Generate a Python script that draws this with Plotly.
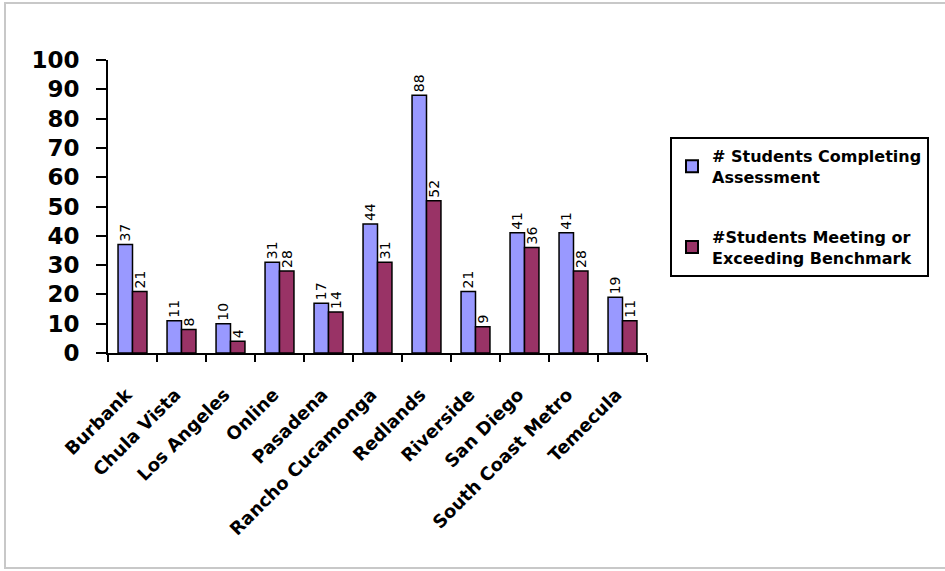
import plotly.graph_objects as go

categories = ["Burbank", "Chula Vista", "Los Angeles", "Online", "Pasadena",
              "Rancho Cucamonga", "Redlands", "Riverside", "San Diego",
              "South Coast Metro", "Temecula"]
completing = [37, 11, 10, 31, 17, 44, 88, 21, 41, 41, 19]
meeting = [21, 8, 4, 28, 14, 31, 52, 9, 36, 28, 11]
series_names = ["# Students Completing<br>Assessment",
                "#Students Meeting or<br>Exceeding Benchmark"]
y_ticks = [0, 10, 20, 30, 40, 50, 60, 70, 80, 90, 100]

FONT = "DejaVu Sans"

fig = go.Figure()
for i, (vals, name, color) in enumerate([(completing, series_names[0], "#9999FF"),
                                         (meeting, series_names[1], "#993366")]):
    fig.add_trace(go.Bar(
        x=categories, y=vals, name=name, legendgroup=f"g{i}",
        marker=dict(color=color, line=dict(color="black", width=1.5)),
        text=[str(v) for v in vals], textposition="outside", textangle=-90,
        textfont=dict(family=FONT, size=14, color="black"),
        constraintext="none",
        cliponaxis=False,
    ))

L, R, T, B = 108, 298, 60, 218
W, H = 945, 571
pw, ph = W - L - R, H - T - B

fig.update_layout(
    width=W, height=H,
    margin=dict(l=L, r=R, t=T, b=B, autoexpand=False),
    paper_bgcolor="white", plot_bgcolor="white",
    barmode="group", bargap=0.41, bargroupgap=0,
    showlegend=True,
    legend=dict(
        x=(670 - L) / pw, y=1 - (137 - T) / ph, xanchor="left", yanchor="top",
        bordercolor="black", borderwidth=2, bgcolor="white",
        font=dict(family=FONT, size=16, color="black", weight="bold"),
        tracegroupgap=36, itemsizing="constant",
    ),
    uniformtext=dict(mode=False),
    font=dict(family=FONT, color="black"),
    xaxis=dict(
        showline=True, linecolor="black", linewidth=2,
        ticks="outside", tickson="boundaries", ticklen=7, tickwidth=2, tickcolor="black",
        tickangle=-45, ticklabelstandoff=22, ticklabelshift=-6,
        tickfont=dict(family=FONT, size=18, color="black", weight="bold"),
        showgrid=False,
    ),
    yaxis=dict(
        range=[0, 100], tickvals=y_ticks,
        showline=True, linecolor="black", linewidth=2,
        ticks="outside", ticklen=10, tickwidth=2, tickcolor="black",
        ticklabelstandoff=12,
        tickfont=dict(family=FONT, size=23, color="black", weight="bold"),
        showgrid=False, zeroline=False,
    ),
    shapes=[dict(
        type="rect", xref="paper", yref="paper",
        x0=(5 - L) / pw, x1=(947 - L) / pw,
        y0=-(568 - (T + ph)) / ph, y1=1 + (T - 3) / ph,
        line=dict(color="#c8c8c8", width=2), fillcolor="rgba(0,0,0,0)",
        layer="below",
    )],
)

fig.write_html("out.html", config={"displayModeBar": False},
               post_script="document.body.style.margin='0';")
